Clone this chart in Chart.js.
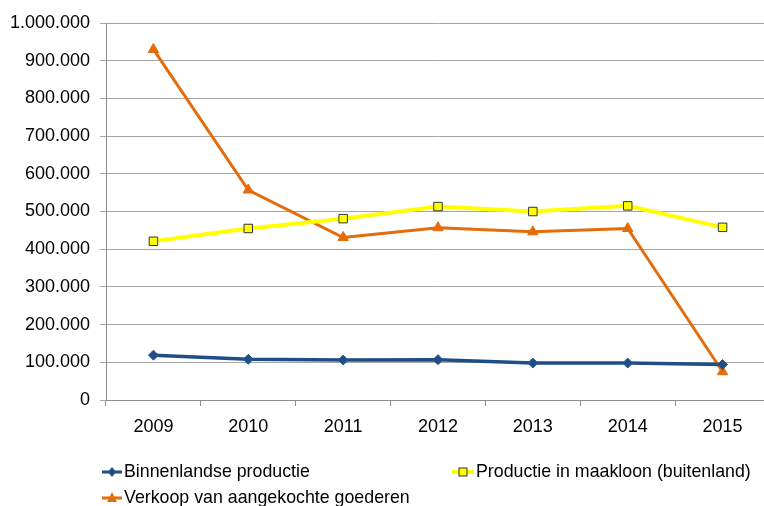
<!DOCTYPE html>
<html lang="nl">
<head>
    <meta charset="UTF-8">
    <title>Productie en verkoop</title>
    <script src="https://cdn.jsdelivr.net/npm/chart.js"></script>
    <style>
        html, body {
            margin: 0;
            padding: 0;
            background: #ffffff;
            overflow: hidden;
            font-family: "Liberation Sans", Arial, sans-serif;
        }
        .wrap {
            position: relative;
            width: 777px;
            height: 506px;
        }
        .legend {
            position: absolute;
            font-size: 17.8px;
            color: #000;
            white-space: nowrap;
            display: flex;
            align-items: center;
        }
        .legend svg {
            margin-right: 2px;
        }
    </style>
</head>
<body>
    <div class="wrap">
        <canvas id="chart" width="777" height="506"></canvas>
        <div class="legend" style="left:102px; top:461px;">
            <svg width="20" height="14"><line x1="0" y1="7" x2="20" y2="7" stroke="#1F4E86" stroke-width="3"/><polygon points="10,2 14,7 10,12 6,7" fill="#1F4E86"/></svg>Binnenlandse productie
        </div>
        <div class="legend" style="left:452px; top:461px;">
            <svg width="22" height="14"><line x1="0" y1="7" x2="22" y2="7" stroke="#FFFF00" stroke-width="4"/><rect x="7" y="3" width="8" height="8" fill="#FFFF00" stroke="#333" stroke-width="1"/></svg>Productie in maakloon (buitenland)
        </div>
        <div class="legend" style="left:102px; top:487px;">
            <svg width="20" height="14"><line x1="0" y1="7" x2="20" y2="7" stroke="#E46C0A" stroke-width="3"/><polygon points="10,1 15,11 5,11" fill="#E46C0A"/></svg>Verkoop van aangekochte goederen
        </div>
    </div>
    <script>
        const years = ['2009', '2010', '2011', '2012', '2013', '2014', '2015'];
        const binnenlands = [119000, 108000, 106000, 107000, 98000, 98000, 94000];
        const maakloon = [421000, 455000, 481000, 513000, 500000, 515000, 458000];
        const verkoop = [930000, 557000, 431000, 457000, 446000, 455000, 75000];

        function formatNL(v) {
            return String(v).replace(/\B(?=(\d{3})+(?!\d))/g, '.');
        }

        const ctx = document.getElementById('chart').getContext('2d');
        new Chart(ctx, {
            type: 'line',
            data: {
                labels: years,
                datasets: [{
                    label: 'Binnenlandse productie',
                    data: binnenlands,
                    borderColor: '#1F4E86',
                    backgroundColor: '#1F4E86',
                    borderWidth: 3.5,
                    pointStyle: 'rectRot',
                    pointRadius: 5,
                    pointBorderWidth: 1,
                    pointBorderColor: '#2A5A96',
                    tension: 0
                }, {
                    label: 'Productie in maakloon (buitenland)',
                    data: maakloon,
                    borderColor: '#FFFF00',
                    backgroundColor: '#FFFF00',
                    borderWidth: 4,
                    pointStyle: 'rect',
                    pointRadius: 6,
                    pointBorderWidth: 1,
                    pointBorderColor: '#333333',
                    pointBackgroundColor: '#FFFF00',
                    tension: 0
                }, {
                    label: 'Verkoop van aangekochte goederen',
                    data: verkoop,
                    borderColor: '#E46C0A',
                    backgroundColor: '#E46C0A',
                    borderWidth: 3,
                    pointStyle: 'triangle',
                    pointRadius: 6,
                    pointBorderWidth: 1,
                    tension: 0
                }]
            },
            options: {
                responsive: false,
                animation: false,
                layout: {
                    padding: { top: 23, right: 0, bottom: 66, left: 0 }
                },
                plugins: {
                    legend: { display: false },
                    tooltip: { enabled: false }
                },
                scales: {
                    y: {
                        min: 0,
                        max: 1000000,
                        ticks: {
                            stepSize: 100000,
                            color: '#000',
                            padding: 10,
                            font: { family: '"Liberation Sans", Arial', size: 18 },
                            callback: function (v) { return formatNL(v); }
                        },
                        grid: {
                            color: '#A6A6A6',
                            lineWidth: 1,
                            tickLength: 6
                        },
                        border: { color: '#8C8C8C', width: 1 },
                        afterFit: function (scale) { scale.width = 106; }
                    },
                    x: {
                        offset: true,
                        ticks: {
                            color: '#000',
                            padding: 10,
                            font: { family: '"Liberation Sans", Arial', size: 18 }
                        },
                        grid: {
                            offset: true,
                            drawOnChartArea: false,
                            color: '#8C8C8C',
                            tickLength: 6
                        },
                        border: { color: '#8C8C8C', width: 1 },
                        afterFit: function (scale) { scale.height = 40; }
                    }
                }
            }
        });
    </script>
</body>
</html>
